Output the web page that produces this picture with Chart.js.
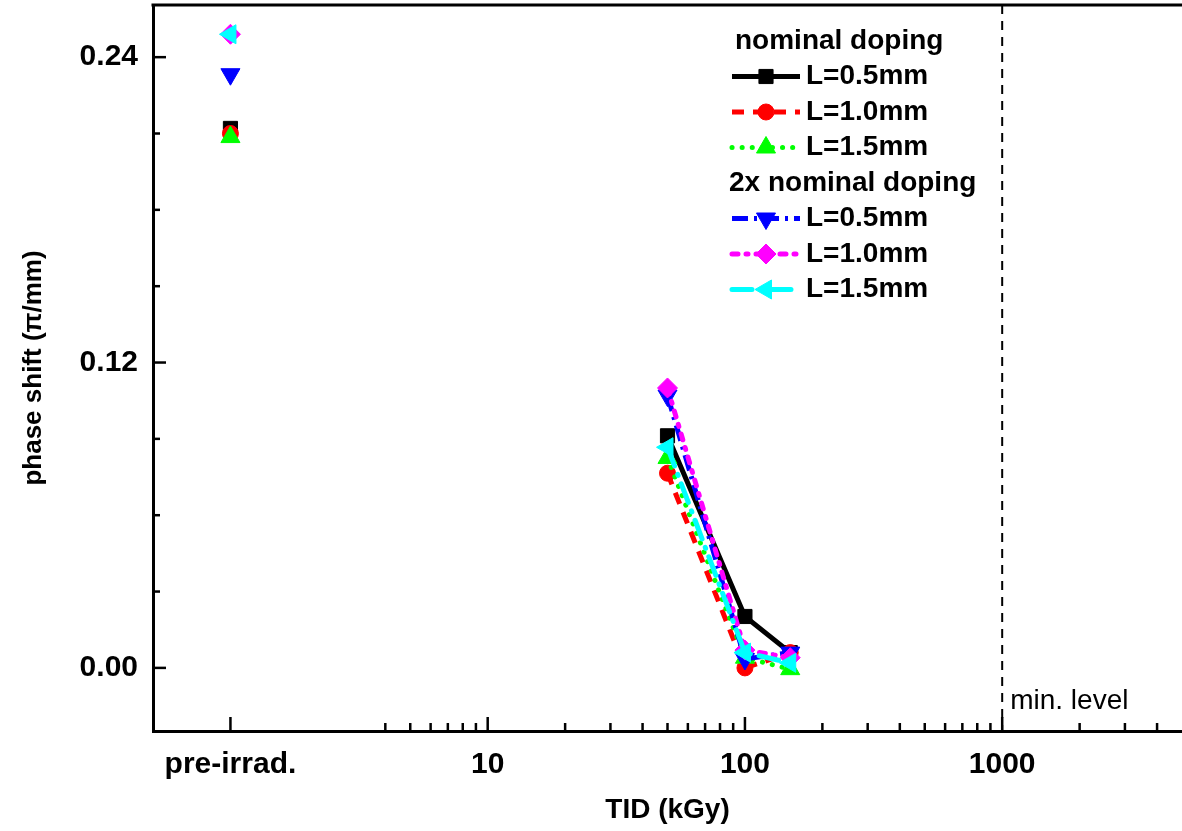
<!DOCTYPE html>
<html>
<head>
<meta charset="utf-8">
<script src="https://cdn.jsdelivr.net/npm/chart.js@4.4.1/dist/chart.umd.min.js"></script>
<style>
  html, body { margin: 0; padding: 0; background: #fff; }
</style>
</head>
<body>
<canvas id="phaseChart" width="1182" height="831"></canvas>
<script>
// dose values, 1 is the "pre-irrad." slot on the log axis
const doses = [1, 50, 100, 150];
const nomL05 = [0.212, 0.0912, 0.0202, 0.006];
const nomL10 = [0.210, 0.0765, 0.0, 0.006];
const nomL15 = [0.2086, 0.0825, 0.004, -0.0005];
const dblL05 = [0.2333, 0.107, 0.0035, 0.006];
const dblL10 = [0.249, 0.110, 0.007, 0.004];
const dblL15 = [0.249, 0.0867, 0.006, 0.002];

const seriesLabels = ['L=0.5mm', 'L=1.0mm', 'L=1.5mm', 'L=0.5mm', 'L=1.0mm', 'L=1.5mm'];
const groupTitles = ['nominal doping', '2x nominal doping'];

const xTickValues = [1, 10, 100, 1000];
const xTickLabels = ['pre-irrad.', '10', '100', '1000'];
const xMinorTicks = [4, 5, 6, 7, 8, 9, 20, 30, 40, 50, 60, 70, 80, 90,
  200, 300, 400, 500, 600, 700, 800, 900, 2000, 3000, 4000];
const yTickValues = [0, 0.12, 0.24];
const yMinorTicks = [0.03, 0.06, 0.09, 0.15, 0.18, 0.21];
const minLevel = 1000;

const FONT = '"Liberation Sans", Arial, sans-serif';
Chart.defaults.font.family = FONT;
Chart.defaults.color = '#000';

function toPoints(vals) {
  return doses.map((d, i) => ({ x: d, y: vals[i] }));
}

function makeSet(label, vals, color, dash, style, rot, radius, order, cap) {
  return {
    label: label,
    data: toPoints(vals),
    borderColor: color,
    backgroundColor: color,
    borderWidth: 5,
    borderDash: dash,
    borderCapStyle: cap || 'butt',
    pointStyle: style,
    pointRotation: rot,
    pointRadius: radius,
    pointBackgroundColor: color,
    pointBorderColor: color,
    pointBorderWidth: 1,
    tension: 0,
    order: order,
    // no line between pre-irrad. and first dose
    segment: {
      borderColor: c => c.p0DataIndex === 0 ? 'rgba(0,0,0,0)' : undefined
    }
  };
}

const datasets = [
  makeSet('nominal L=0.5mm', nomL05, '#000000', [], 'rect', 0, 10, 6),
  makeSet('nominal L=1.0mm', nomL10, '#ff0000', [12, 9], 'circle', 0, 8, 5),
  makeSet('nominal L=1.5mm', nomL15, '#00ff00', [0.1, 10], 'triangle', 0, 11, 4, 'round'),
  makeSet('2x L=0.5mm', dblL05, '#0000ff', [16, 6, 3, 6], 'triangle', 180, 11, 3),
  makeSet('2x L=1.0mm', dblL10, '#ff00ff', [6, 8, 2, 8], 'rectRot', 0, 10, 2, 'round'),
  makeSet('2x L=1.5mm', dblL15, '#00ffff', [20, 9, 1, 9], 'triangle', -90, 11, 1, 'round')
];

const decor = {
  id: 'decor',
  beforeDatasetsDraw(chart) {
    const { ctx, chartArea: a, scales: { x, y } } = chart;
    const seg = (x1, y1, x2, y2) => {
      ctx.beginPath(); ctx.moveTo(x1, y1); ctx.lineTo(x2, y2); ctx.stroke();
    };
    ctx.save();
    ctx.strokeStyle = '#000';
    ctx.lineWidth = 3;
    seg(a.left - 1.5, a.top, a.right, a.top);

    // inward ticks
    ctx.lineWidth = 2.5;
    xTickValues.forEach(v => { const p = x.getPixelForValue(v); seg(p, a.bottom, p, a.bottom - 14); });
    xMinorTicks.forEach(v => { const p = x.getPixelForValue(v); seg(p, a.bottom, p, a.bottom - 8); });
    yTickValues.forEach(v => { const p = y.getPixelForValue(v); seg(a.left, p, a.left + 13, p); });
    yMinorTicks.forEach(v => { const p = y.getPixelForValue(v); seg(a.left, p, a.left + 7, p); });

    // min. level marker
    const mx = x.getPixelForValue(minLevel);
    ctx.lineWidth = 2;
    ctx.setLineDash([9, 7]);
    seg(mx, a.top, mx, a.bottom);
    ctx.setLineDash([]);
    ctx.fillStyle = '#000';
    ctx.font = '28px ' + FONT;
    ctx.textAlign = 'left';
    ctx.textBaseline = 'alphabetic';
    ctx.fillText('min. level', mx + 8, a.bottom - 22);
    ctx.restore();
  },
  afterDraw(chart) {
    const { ctx } = chart;
    const sets = chart.data.datasets;
    const rows = [groupTitles[0], 0, 1, 2, groupTitles[1], 3, 4, 5];
    ctx.save();
    ctx.font = 'bold 28px ' + FONT;
    ctx.textBaseline = 'middle';
    ctx.textAlign = 'left';
    rows.forEach((r, i) => {
      const yy = 41 + i * 35.5;
      if (typeof r === 'string') {
        ctx.fillStyle = '#000';
        ctx.fillText(r, i === 0 ? 735 : 729, yy);
        return;
      }
      const ds = sets[r];
      ctx.strokeStyle = ds.borderColor;
      ctx.lineWidth = ds.borderWidth;
      ctx.lineCap = ds.borderCapStyle;
      ctx.setLineDash(ds.borderDash);
      ctx.beginPath(); ctx.moveTo(732, yy); ctx.lineTo(800, yy); ctx.stroke();
      ctx.setLineDash([]);
      ctx.lineCap = 'butt';
      ctx.fillStyle = ds.pointBackgroundColor;
      ctx.strokeStyle = ds.pointBorderColor;
      ctx.lineWidth = 1;
      Chart.helpers.drawPoint(ctx, {
        pointStyle: ds.pointStyle, rotation: ds.pointRotation,
        radius: ds.pointRadius, borderWidth: 1
      }, 766, yy);
      ctx.fillStyle = '#000';
      ctx.fillText(seriesLabels[r], 806, yy);
    });
    ctx.restore();
  }
};

new Chart(document.getElementById('phaseChart'), {
  type: 'line',
  data: { datasets: datasets },
  plugins: [decor],
  options: {
    responsive: false,
    animation: false,
    layout: { autoPadding: false, padding: { top: 5, right: 0, bottom: 0, left: 0 } },
    plugins: { legend: { display: false }, tooltip: { enabled: false } },
    scales: {
      x: {
        type: 'logarithmic',
        min: 0.5,
        max: 5000,
        afterBuildTicks: s => { s.ticks = xTickValues.map(v => ({ value: v })); },
        afterFit: s => { s.height = 100; s.paddingLeft = 0; s.paddingRight = 0; },
        grid: { display: false, drawTicks: false },
        border: { display: true, color: '#000', width: 3 },
        ticks: {
          autoSkip: false, maxRotation: 0, padding: 16,
          font: { size: 30, weight: 'bold' },
          callback: v => xTickLabels[xTickValues.indexOf(v)] || ''
        },
        title: {
          display: true, text: 'TID (kGy)',
          font: { size: 28, weight: 'bold' },
          padding: { top: 0, bottom: 4 }
        }
      },
      y: {
        type: 'linear',
        min: -0.0248,
        max: 0.2605,
        afterBuildTicks: s => { s.ticks = yTickValues.map(v => ({ value: v })); },
        afterFit: s => { s.width = 153; s.paddingTop = 0; s.paddingBottom = 0; },
        grid: { display: false, drawTicks: false },
        border: { display: true, color: '#000', width: 3 },
        ticks: {
          padding: 15,
          font: { size: 30, weight: 'bold' },
          callback: v => v.toFixed(2)
        },
        title: {
          display: true, text: 'phase shift (\u03c0/mm)',
          font: { size: 26, weight: 'bold' },
          padding: { top: 18, bottom: 0 }
        }
      }
    }
  }
});
</script>
</body>
</html>
